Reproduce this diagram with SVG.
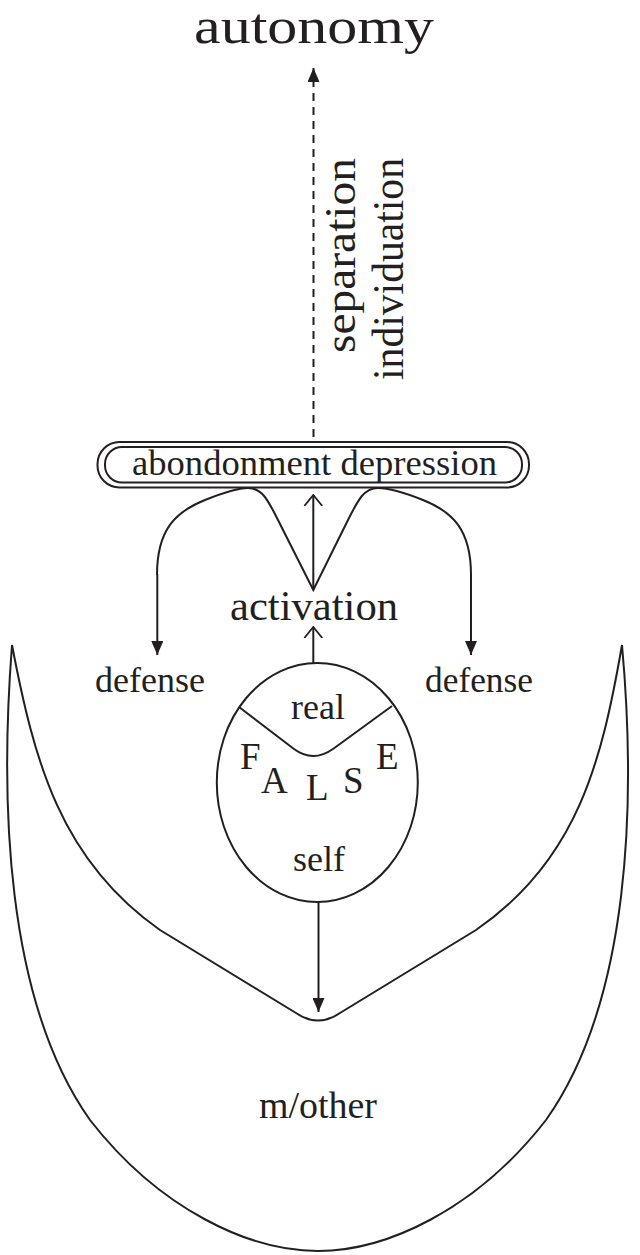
<svg xmlns="http://www.w3.org/2000/svg" width="640" height="1255" viewBox="0 0 640 1255">
<style>
text{font-family:"Liberation Serif","Tinos","Times New Roman","Noto Serif","DejaVu Serif",Georgia,serif;fill:#231f20}
.ln{fill:none;stroke:#231f20;stroke-width:2}
.lbl{font-size:36px;text-anchor:middle}
.big{font-size:42px;text-anchor:middle}
</style>
<defs>
<marker id="tri" viewBox="0 0 14 12" refX="14" refY="6" markerWidth="14" markerHeight="12" markerUnits="userSpaceOnUse" orient="auto">
<path d="M0,0 L14,6 L0,12 Z" fill="#231f20"/>
</marker>
<marker id="open" viewBox="0 0 12 20" refX="11" refY="10" markerWidth="12" markerHeight="20" markerUnits="userSpaceOnUse" orient="auto">
<path d="M0,1 L11,10 L0,19" fill="none" stroke="#231f20" stroke-width="1.8"/>
</marker>
</defs>
<rect width="640" height="1255" fill="#fff"/>

<g id="autonomy">
<text x="314" y="43" style="font-size:50px;text-anchor:middle" textLength="240" lengthAdjust="spacingAndGlyphs">autonomy</text>
</g>

<g id="separation-label">
<text transform="translate(355,158) rotate(-90)" style="font-size:44px;text-anchor:end" textLength="195" lengthAdjust="spacingAndGlyphs">separation</text>
<text transform="translate(403,158) rotate(-90)" style="font-size:44px;text-anchor:end" textLength="222" lengthAdjust="spacingAndGlyphs">individuation</text>
</g>

<g id="abandonment">
<rect x="97.5" y="442" width="431.5" height="45.5" rx="22" ry="22" class="ln" stroke-width="1.6"/>
<rect x="105" y="447" width="417" height="35.5" rx="17" ry="17" class="ln" stroke-width="1.6"/>
<text x="314.5" y="475" class="lbl" textLength="365" lengthAdjust="spacingAndGlyphs">abondonment depression</text>
</g>

<g id="activation">
<text x="314" y="620" class="big" textLength="168" lengthAdjust="spacingAndGlyphs">activation</text>
</g>

<g id="defense-left">
<text x="150" y="692" class="lbl" textLength="110" lengthAdjust="spacingAndGlyphs">defense</text>
</g>
<g id="defense-right">
<text x="479" y="692" class="lbl" textLength="108" lengthAdjust="spacingAndGlyphs">defense</text>
</g>

<g id="mother">
<path class="ln" d="M12,645 C0,800 5,1000 90,1120 C160,1210 250,1251 318,1251 C386,1251 476,1210 546,1120 C631,1000 636,800 622,645 C602,760 578,860 476,930 L340,1013 Q318,1028 296,1013 L160,930 C60,860 34,760 12,645 Z"/>
<text x="318" y="1118" style="font-size:37px;text-anchor:middle" textLength="118" lengthAdjust="spacingAndGlyphs">m/other</text>
</g>

<g id="self">
<ellipse cx="317.3" cy="782.5" rx="100.5" ry="119.5" class="ln"/>
<path class="ln" d="M239,707 L294,749 Q313,763 333,749 L392,706"/>
<text x="318" y="719" class="lbl">real</text>
<text x="319" y="871" class="lbl">self</text>
<g style="font-size:37px">
<text x="240" y="769">F</text>
<text x="261" y="793">A</text>
<text x="306" y="800">L</text>
<text x="343" y="793">S</text>
<text x="376" y="769">E</text>
</g>
</g>

<g id="connectors">
<line x1="313.5" y1="437" x2="313.5" y2="68" class="ln" stroke-width="1.6" stroke-dasharray="8,6" marker-end="url(#tri)"/>
<path class="ln" d="M157,575 C157,530 175,512 205,500 C225,492 238,488 248,488 C262,488 268,500 278,520 L313.3,590 L348,520 C358,500 364,488 378,488 C390,488 403,492 423,500 C453,512 471,530 471,575"/>
<line x1="157.3" y1="574" x2="157.3" y2="655" class="ln" marker-end="url(#tri)"/>
<line x1="471" y1="574" x2="471" y2="655" class="ln" marker-end="url(#tri)"/>
<line x1="313.3" y1="590" x2="313.3" y2="495" class="ln" stroke-width="2.4" marker-end="url(#open)"/>
<line x1="313.3" y1="663" x2="313.3" y2="627" class="ln" stroke-width="2.4" marker-end="url(#open)"/>
<line x1="318.5" y1="902" x2="318.5" y2="1012" class="ln" stroke-width="2.4" marker-end="url(#tri)"/>
</g>
</svg>
